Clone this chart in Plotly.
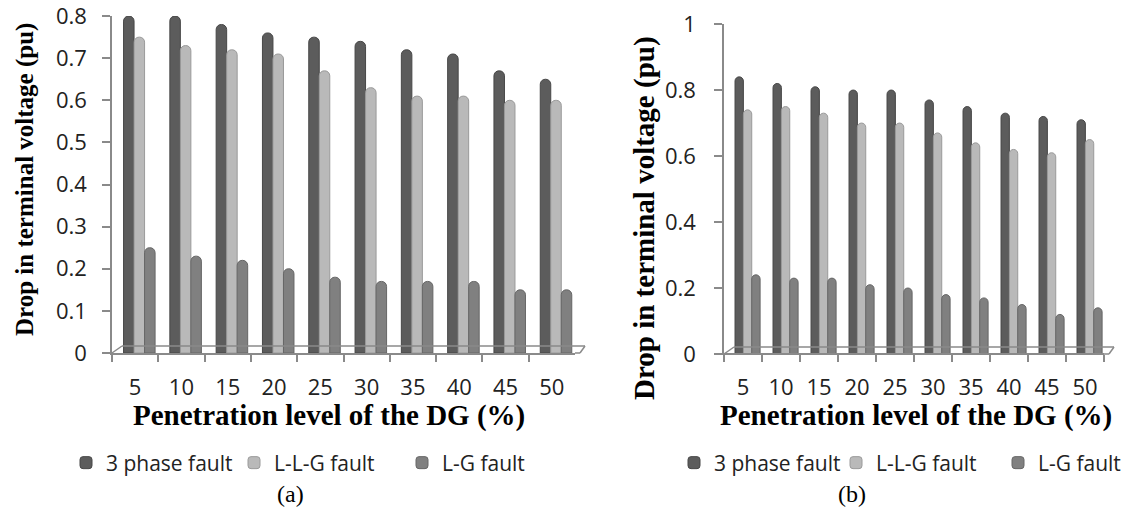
import plotly.graph_objects as go

# Penetration levels of the DG (%) on the category axis
penetration = ["5", "10", "15", "20", "25", "30", "35", "40", "45", "50"]

series_names = ["3 phase fault", "L-L-G fault", "L-G fault"]
series_colors = ["#5c5c5c", "#b9b9b9", "#808080"]
series_edges = ["#474747", "#9a9a9a", "#666666"]

# (a) drop in terminal voltage (pu)
drop_a_3ph = [0.80, 0.80, 0.78, 0.76, 0.75, 0.74, 0.72, 0.71, 0.67, 0.65]
drop_a_llg = [0.75, 0.73, 0.72, 0.71, 0.67, 0.63, 0.61, 0.61, 0.60, 0.60]
drop_a_lg = [0.25, 0.23, 0.22, 0.20, 0.18, 0.17, 0.17, 0.17, 0.15, 0.15]

# (b) drop in terminal voltage (pu)
drop_b_3ph = [0.84, 0.82, 0.81, 0.80, 0.80, 0.77, 0.75, 0.73, 0.72, 0.71]
drop_b_llg = [0.74, 0.75, 0.73, 0.70, 0.70, 0.67, 0.64, 0.62, 0.61, 0.65]
drop_b_lg = [0.24, 0.23, 0.23, 0.21, 0.20, 0.18, 0.17, 0.15, 0.12, 0.14]

ticks_a = [0, 0.1, 0.2, 0.3, 0.4, 0.5, 0.6, 0.7, 0.8]
ticks_a_text = ["0", "0.1", "0.2", "0.3", "0.4", "0.5", "0.6", "0.7", "0.8"]
ticks_b = [0, 0.2, 0.4, 0.6, 0.8, 1.0]
ticks_b_text = ["0", "0.2", "0.4", "0.6", "0.8", "1"]

W, H = 1139, 529


def fx(p):
    return p / W


def fy(p):
    return 1 - p / H


# plot areas in pixels: (left, right, top, bottom)
area_a = (112, 575, 16, 353)
area_b = (724, 1104, 24, 354)

AXIS_GREY = "#8a8a8a"
TICK_FONT = dict(family="Open Sans", size=22, color="#222222")
LEGEND_FONT = dict(family="Open Sans", size=21, color="#222222")
SERIF = "Liberation Serif"

fig = go.Figure()


def add_group(values, xa, ya, legend, bar_w, shift):
    for i, (vals, name, col, edge) in enumerate(zip(values, series_names, series_colors, series_edges)):
        fig.add_trace(go.Bar(
            x=penetration, y=vals, name=name,
            xaxis=xa, yaxis=ya, legend=legend,
            width=bar_w, offset=-1.5 * bar_w + i * bar_w + shift,
            marker=dict(color=col, line=dict(color=edge, width=1), cornerradius=5),
            hovertemplate=name + ": %{y}<extra></extra>",
        ))


add_group([drop_a_3ph, drop_a_llg, drop_a_lg], "x", "y", "legend", 0.227, 0.09)
add_group([drop_b_3ph, drop_b_llg, drop_b_lg], "x2", "y2", "legend2", 0.22, 0.12)


def xaxis_cfg(area):
    return dict(
        domain=[fx(area[0]), fx(area[1])], type="category", range=[-0.5, 9.5],
        tickson="boundaries", ticks="outside", ticklen=7, tickcolor=AXIS_GREY, tickwidth=1.5,
        showline=True, linecolor=AXIS_GREY, linewidth=1.5, showgrid=False,
        tickfont=TICK_FONT, ticklabelstandoff=14, tickangle=0, fixedrange=True,
        automargin=False, ticklabeloverflow="allow",
    )


def yaxis_cfg(area, rng, vals, text, anchor, standoff):
    return dict(
        domain=[fy(area[3]), fy(area[2])], range=rng, anchor=anchor,
        tickmode="array", tickvals=vals, ticktext=text, ticks="outside", ticklen=8,
        tickcolor=AXIS_GREY, tickwidth=1.5, showline=True, linecolor=AXIS_GREY,
        linewidth=1.5, showgrid=False, zeroline=False, tickfont=TICK_FONT,
        ticklabelstandoff=standoff, fixedrange=True, automargin=False,
        ticklabeloverflow="allow",
    )


fig.update_layout(
    width=W, height=H, margin=dict(l=0, r=0, t=0, b=0, autoexpand=False),
    paper_bgcolor="white", plot_bgcolor="rgba(0,0,0,0)",
    barmode="overlay",
    xaxis=xaxis_cfg(area_a),
    yaxis=yaxis_cfg(area_a, [0, 0.8002], ticks_a, ticks_a_text, "x", 11),
    xaxis2=xaxis_cfg(area_b),
    yaxis2=yaxis_cfg(area_b, [0, 1.0002], ticks_b, ticks_b_text, "x2", 14),
    legend=dict(orientation="h", x=fx(66), y=fy(463), xanchor="left", yanchor="middle",
                font=LEGEND_FONT, itemwidth=30, entrywidth=123, tracegroupgap=0),
    legend2=dict(orientation="h", x=fx(674), y=fy(463), xanchor="left", yanchor="middle",
                 font=LEGEND_FONT, itemwidth=30, entrywidth=117, tracegroupgap=0),
    showlegend=True,
)


# 3D floor outline behind the category axis
def floor(area, xa, ya, depth_x=10, depth_y=7):
    left, right, top, bottom = area
    wpx = right - left
    hpx = bottom - top
    dx = depth_x / wpx
    dy = depth_y / hpx
    ext = 5 / wpx
    xr, yr = xa + " domain", ya + " domain"
    line = dict(color=AXIS_GREY, width=1.5)
    fig.add_shape(type="line", xref=xr, yref=yr, x0=0, y0=0, x1=dx, y1=dy, line=line)
    fig.add_shape(type="line", xref=xr, yref=yr, x0=dx, y0=dy, x1=1 + dx, y1=dy, line=line)
    fig.add_shape(type="line", xref=xr, yref=yr, x0=1, y0=0, x1=1 + ext, y1=0, line=line)
    fig.add_shape(type="line", xref=xr, yref=yr, x0=1 + ext, y0=0, x1=1 + dx, y1=dy, line=line)


floor(area_a, "x", "y")
floor(area_b, "x2", "y2")

# axis titles and panel captions
x_title = "Penetration level of the DG (%)"
y_title = "Drop in terminal voltage (pu)"
captions = ["(a)", "(b)"]


def label(text, xp, yp, size, angle=0, bold=True):
    fig.add_annotation(
        text=("<b>" + text + "</b>") if bold else text,
        xref="paper", yref="paper", x=fx(xp), y=fy(yp),
        xanchor="center", yanchor="middle", showarrow=False, textangle=angle,
        font=dict(family=SERIF, size=size, color="#000000"),
    )


label(x_title, 329, 415, 29)
label(x_title, 916, 415, 29)
label(y_title, 25, 180, 25, angle=-90)
label(y_title, 645, 218, 29, angle=-90)
label(captions[0], 290, 494, 24, bold=False)
label(captions[1], 852, 494, 24, bold=False)

fig.write_html("out.html")
